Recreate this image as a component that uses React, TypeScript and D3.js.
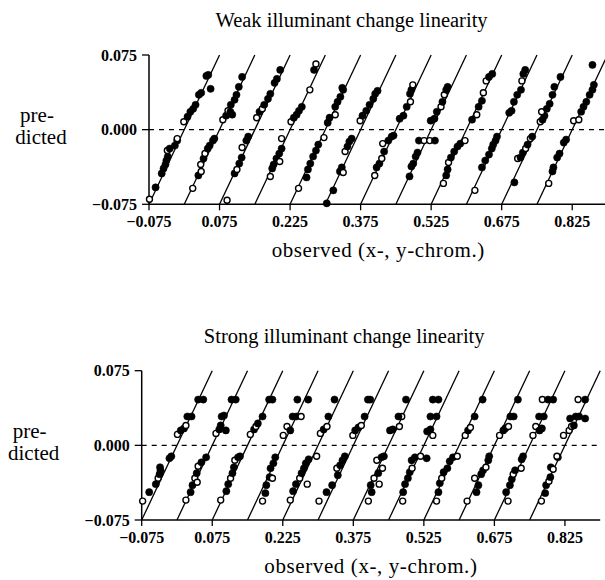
import React from "react";
import * as d3 from "d3";

type P = [number, number, number]; // [observed (local), predicted, filled?1:0]

const xTicks = [-0.075, 0.075, 0.225, 0.375, 0.525, 0.675, 0.825];
const yTicks = [0.075, 0, -0.075];
const groupOffsets = [0, 0.075, 0.15, 0.225, 0.3, 0.375, 0.45, 0.525, 0.6, 0.675, 0.75, 0.825];
const weakTitle = "Weak illuminant change linearity";
const strongTitle = "Strong illuminant change linearity";
const xLabel = "observed (x-, y-chrom.)";
const yLabel = ["pre-", "dicted"];

const weak0: P[] = [[-0.074,-0.070,0],[-0.061,-0.058,1],[-0.048,-0.044,1],[-0.044,-0.039,1],[-0.040,-0.035,1],[-0.038,-0.031,1],[-0.035,-0.027,1],[-0.036,-0.021,0],[-0.031,-0.019,1],[-0.020,-0.016,1],[-0.015,-0.011,1],[-0.015,-0.009,0],[-0.001,0.008,0],[0.007,0.013,1],[0.013,0.018,1],[0.019,0.021,1],[0.024,0.025,1],[0.031,0.035,1],[0.036,0.037,1],[0.047,0.054,1],[0.051,0.055,1],[0.056,0.041,1]];
const weak1: P[] = [[-0.057,-0.059,0],[-0.045,-0.046,1],[-0.039,-0.042,0],[-0.040,-0.035,0],[-0.034,-0.029,1],[-0.031,-0.024,0],[-0.025,-0.019,1],[-0.021,-0.016,1],[-0.014,-0.011,1],[-0.011,-0.009,1],[0.007,0.010,0],[0.014,0.014,1],[0.018,0.019,0],[0.023,0.018,1],[0.027,0.015,1],[0.024,0.025,1],[0.032,0.030,1],[0.036,0.035,1],[0.041,0.043,1],[0.048,0.053,1]];
const weak2: P[] = [[-0.059,-0.071,0],[-0.043,-0.044,1],[-0.038,-0.040,0],[-0.033,-0.034,1],[-0.028,-0.028,1],[-0.027,-0.018,0],[-0.018,-0.011,1],[-0.014,-0.007,1],[0.004,0.012,0],[0.010,0.018,1],[0.016,0.021,0],[0.020,0.025,1],[0.028,0.031,1],[0.033,0.036,1],[0.042,0.047,1],[0.047,0.051,1],[0.054,0.060,1]];
const weak3: P[] = [[-0.042,-0.047,0],[-0.038,-0.039,1],[-0.035,-0.035,1],[-0.029,-0.029,1],[-0.022,-0.032,0],[-0.023,-0.024,1],[-0.018,-0.019,1],[-0.018,-0.009,0],[0.002,0.008,0],[0.008,0.012,1],[0.014,0.015,1],[0.019,0.019,1],[0.025,0.023,1],[0.042,0.040,0],[0.051,0.060,1],[0.055,0.066,0]];
const weak4: P[] = [[-0.057,-0.059,0],[-0.040,-0.048,1],[-0.037,-0.040,1],[-0.032,-0.034,1],[-0.026,-0.027,1],[-0.020,-0.021,1],[-0.015,-0.015,1],[-0.003,-0.008,0],[0.005,0.007,1],[0.009,0.012,1],[0.021,0.015,0],[0.021,0.023,1],[0.026,0.028,1],[0.032,0.033,1],[0.038,0.040,1],[0.036,0.042,1]];
const weak5: P[] = [[-0.072,-0.074,1],[-0.058,-0.061,1],[-0.044,-0.042,1],[-0.040,-0.038,1],[-0.037,-0.043,0],[-0.033,-0.022,0],[-0.028,-0.017,1],[-0.024,-0.012,1],[-0.019,-0.009,1],[-0.001,0.009,0],[0.004,0.014,1],[0.012,0.019,1],[0.019,0.025,1],[0.027,0.031,1],[0.031,0.036,1],[0.036,0.039,1]];
const weak6: P[] = [[-0.045,-0.046,0],[-0.041,-0.038,1],[-0.035,-0.034,1],[-0.030,-0.029,0],[-0.025,-0.022,1],[-0.028,-0.014,0],[-0.016,-0.011,1],[-0.009,-0.007,1],[-0.005,-0.006,1],[0.008,0.011,1],[0.016,0.014,1],[0.023,0.023,1],[0.031,0.028,0],[0.030,0.036,1],[0.033,0.040,1],[0.036,0.045,0]];
const weak7: P[] = [[-0.046,-0.047,1],[-0.042,-0.037,1],[-0.038,-0.034,1],[-0.033,-0.027,1],[-0.029,-0.023,1],[-0.026,-0.011,1],[-0.015,-0.011,0],[-0.003,-0.011,0],[0.008,-0.011,1],[-0.001,0.009,1],[0.007,0.011,1],[0.012,0.018,1],[0.021,0.023,0],[0.024,0.028,1],[0.028,0.035,0],[0.032,0.040,1],[0.035,0.043,1]];
const weak8: P[] = [[-0.049,-0.054,0],[-0.043,-0.046,1],[-0.040,-0.040,1],[-0.038,-0.033,0],[-0.033,-0.028,1],[-0.026,-0.022,1],[-0.019,-0.017,1],[-0.013,-0.014,1],[-0.003,-0.011,0],[0.012,0.010,1],[0.022,0.015,0],[0.026,0.023,1],[0.033,0.029,1],[0.036,0.037,0],[0.042,0.049,0],[0.048,0.053,1],[0.055,0.056,1]];
const weak9: P[] = [[-0.057,-0.061,0],[-0.042,-0.038,1],[-0.035,-0.031,1],[-0.027,-0.025,1],[-0.021,-0.019,1],[-0.018,-0.015,1],[-0.013,-0.011,1],[-0.010,-0.007,1],[0.016,0.017,1],[0.021,0.019,1],[0.026,0.028,1],[0.033,0.035,1],[0.041,0.040,1],[0.043,0.049,0],[0.046,0.056,1],[0.050,0.060,1]];
const weak10: P[] = [[-0.048,-0.053,1],[-0.041,-0.029,0],[-0.035,-0.028,1],[-0.030,-0.023,1],[-0.024,-0.019,0],[-0.020,-0.015,1],[-0.014,-0.009,0],[-0.010,-0.007,1],[0.007,0.008,0],[0.012,0.010,1],[0.016,0.014,1],[0.010,0.018,0],[0.021,0.021,1],[0.027,0.026,1],[0.033,0.035,1],[0.037,0.043,1],[0.050,0.053,1]];
const weak11: P[] = [[-0.050,-0.054,0],[-0.042,-0.042,1],[-0.040,-0.038,1],[-0.032,-0.028,1],[-0.027,-0.024,1],[-0.018,-0.013,1],[-0.013,-0.010,1],[0.003,0.009,0],[0.014,0.010,0],[0.019,0.018,1],[0.024,0.023,1],[0.030,0.028,1],[0.037,0.035,1],[0.043,0.040,1],[0.046,0.045,1],[0.043,0.065,1]];

const strong0: P[] = [[-0.073,-0.056,0],[-0.059,-0.047,1],[-0.045,-0.039,1],[-0.040,-0.033,0],[-0.037,-0.029,1],[-0.036,-0.022,1],[-0.035,-0.025,1],[-0.016,-0.013,1],[-0.012,-0.011,1],[0.001,0.011,0],[0.008,0.015,1],[0.015,0.017,1],[0.019,0.020,0],[0.022,0.029,1],[0.031,0.029,1],[0.045,0.046,1],[0.056,0.046,1]];
const strong1: P[] = [[-0.056,-0.055,0],[-0.046,-0.047,1],[-0.042,-0.040,1],[-0.037,-0.033,0],[-0.032,-0.037,0],[-0.033,-0.028,1],[-0.030,-0.021,0],[-0.023,-0.017,1],[-0.013,-0.012,1],[0.008,0.012,0],[0.015,0.016,1],[0.018,0.020,1],[0.029,0.015,1],[0.020,0.029,1],[0.025,0.030,1],[0.041,0.046,1],[0.050,0.046,1]];
const strong2: P[] = [[-0.057,-0.055,0],[-0.045,-0.046,1],[-0.041,-0.039,1],[-0.036,-0.033,0],[-0.032,-0.028,1],[-0.029,-0.022,1],[-0.027,-0.015,0],[-0.020,-0.012,1],[-0.016,-0.011,1],[0.006,0.011,0],[0.014,0.016,1],[0.018,0.019,0],[0.022,0.022,1],[0.032,0.029,1],[0.046,0.046,1],[0.053,0.046,1]];
const strong3: P[] = [[-0.043,-0.056,0],[-0.037,-0.048,1],[-0.035,-0.040,1],[-0.028,-0.032,1],[-0.022,-0.033,0],[-0.026,-0.023,1],[-0.020,-0.018,1],[-0.016,-0.012,1],[0.001,0.010,0],[0.009,0.019,0],[0.016,0.015,1],[0.021,0.029,1],[0.029,0.029,1],[0.039,0.029,0],[0.031,0.046,1],[0.054,0.046,1]];
const strong4: P[] = [[-0.059,-0.055,0],[-0.053,-0.046,1],[-0.047,-0.039,1],[-0.039,-0.033,0],[-0.023,-0.039,0],[-0.035,-0.028,1],[-0.030,-0.023,1],[-0.026,-0.018,1],[-0.020,-0.014,1],[-0.003,-0.011,0],[0.005,0.012,0],[0.012,0.016,1],[0.019,0.019,0],[0.022,0.029,1],[0.035,0.046,1]];
const strong5: P[] = [[-0.073,-0.056,0],[-0.057,-0.047,1],[-0.045,-0.040,1],[-0.033,-0.030,1],[-0.035,-0.023,0],[-0.028,-0.020,1],[-0.023,-0.015,1],[-0.018,-0.011,1],[-0.001,0.010,0],[0.004,0.015,1],[0.011,0.018,1],[0.017,0.020,0],[0.024,0.029,1],[0.031,0.046,1],[0.036,0.046,1]];
const strong6: P[] = [[-0.043,-0.056,0],[-0.036,-0.047,1],[-0.038,-0.040,1],[-0.031,-0.033,0],[-0.020,-0.039,0],[-0.022,-0.028,1],[-0.013,-0.023,0],[-0.025,-0.015,0],[-0.015,-0.012,1],[-0.010,-0.011,1],[0.003,0.015,1],[0.009,0.016,1],[0.023,0.019,0],[0.028,0.029,0],[0.021,0.029,1],[0.037,0.046,1]];
const strong7: P[] = [[-0.045,-0.056,0],[-0.044,-0.047,1],[-0.040,-0.039,1],[-0.034,-0.033,1],[-0.030,-0.027,1],[-0.025,-0.023,0],[-0.026,-0.015,1],[-0.019,-0.012,1],[-0.007,-0.011,0],[0.006,-0.013,1],[0.007,0.014,1],[0.014,0.016,1],[0.019,0.010,0],[0.014,0.029,1],[0.027,0.029,1],[0.019,0.046,1],[0.031,0.046,1]];
const strong8: P[] = [[-0.048,-0.056,0],[-0.044,-0.047,1],[-0.041,-0.038,1],[-0.037,-0.033,0],[-0.033,-0.027,1],[-0.025,-0.023,1],[-0.020,-0.016,1],[-0.013,-0.012,1],[-0.004,-0.011,0],[0.013,0.010,0],[0.019,0.015,1],[0.024,0.018,0],[0.033,0.029,1],[0.050,0.046,1]];
const strong9: P[] = [[-0.058,-0.056,0],[-0.038,-0.047,1],[-0.034,-0.040,1],[-0.042,-0.033,0],[-0.028,-0.029,1],[-0.024,-0.025,1],[-0.018,-0.022,0],[-0.013,-0.015,1],[-0.011,-0.011,1],[0.011,0.010,0],[0.019,0.015,1],[0.023,0.017,1],[0.030,0.019,0],[0.034,0.029,1],[0.041,0.029,1],[0.050,0.046,1]];
const strong10: P[] = [[-0.046,-0.056,0],[-0.050,-0.047,1],[-0.042,-0.040,1],[-0.038,-0.034,1],[-0.035,-0.029,0],[-0.031,-0.025,1],[-0.018,-0.023,0],[-0.017,-0.014,1],[-0.014,-0.011,1],[0.007,0.010,0],[0.013,0.019,0],[0.021,0.015,1],[0.026,0.017,1],[0.020,0.029,1],[0.030,0.029,1],[0.027,0.046,0],[0.039,0.046,1],[0.050,0.046,1]];
const strong11: P[] = [[-0.050,-0.056,0],[-0.042,-0.048,1],[-0.040,-0.040,1],[-0.034,-0.036,0],[-0.031,-0.032,1],[-0.030,-0.022,1],[-0.025,-0.024,0],[-0.015,-0.012,1],[-0.017,-0.011,0],[-0.003,0.010,0],[0.009,0.015,0],[0.014,0.019,0],[0.019,0.020,1],[0.011,0.027,1],[0.023,0.029,1],[0.030,0.029,1],[0.043,0.027,1],[0.028,0.046,0],[0.043,0.046,1]];

const weakGroups = [weak0, weak1, weak2, weak3, weak4, weak5, weak6, weak7, weak8, weak9, weak10, weak11];
const strongGroups = [strong0, strong1, strong2, strong3, strong4, strong5, strong6, strong7, strong8, strong9, strong10, strong11];

const FONT = "'Liberation Serif', 'Times New Roman', serif";
const fmt = d3.format(".3f");

function Panel({ groups, title, left, top }: { groups: P[][]; title: string; left: number; top: number }) {
  const x = d3.scaleLinear().domain([-0.075, 0.9]).range([left, left + 458.5]);
  const y = d3.scaleLinear().domain([-0.075, 0.075]).range([top + 149.3, top]);
  const cx = (x(-0.075) + x(0.9)) / 2;
  const y0 = y(-0.075);
  return (
    <g>
      <text x={left + 202.5} y={top - 28} textAnchor="middle" fontFamily={FONT} fontSize={20.5}>{title}</text>
      {/* zero dashed line */}
      <line x1={x(-0.075)} x2={x(0.9)} y1={y(0)} y2={y(0)} stroke="#000" strokeWidth={1.2} strokeDasharray="5,5" />
      {/* axes */}
      <line x1={left} x2={left} y1={y(0.075)} y2={y0} stroke="#000" strokeWidth={1.5} />
      <line x1={left} x2={x(0.9)} y1={y0} y2={y0} stroke="#000" strokeWidth={1.5} />
      {yTicks.map((t) => (
        <g key={"y" + t}>
          <line x1={left - 7} x2={left} y1={y(t)} y2={y(t)} stroke="#000" strokeWidth={1.3} />
          <text x={left - 12} y={y(t)} dy="0.35em" textAnchor="end" fontFamily={FONT} fontWeight="bold" fontSize={16}>{fmt(t)}</text>
        </g>
      ))}
      {xTicks.map((t) => (
        <g key={"x" + t}>
          <line x1={x(t)} x2={x(t)} y1={y0} y2={y0 + 6} stroke="#000" strokeWidth={1.3} />
          <text x={x(t)} y={y0 + 23} textAnchor="middle" fontFamily={FONT} fontWeight="bold" fontSize={16}>{fmt(t)}</text>
        </g>
      ))}
      <text x={cx} y={top + 202} textAnchor="middle" fontFamily={FONT} fontSize={21} letterSpacing={0.6}>{xLabel}</text>
      <text x={left - 112} y={top + 67} textAnchor="middle" fontFamily={FONT} fontSize={21}>{yLabel[0]}</text>
      <text x={left - 108} y={top + 89} textAnchor="middle" fontFamily={FONT} fontSize={21}>{yLabel[1]}</text>
      {/* identity lines, one per group */}
      {groupOffsets.map((o, k) => (
        <line key={"l" + k} x1={x(-0.075 + o)} y1={y(-0.075)} x2={x(0.075 + o)} y2={y(0.075)} stroke="#000" strokeWidth={1.3} />
      ))}
      {groups.map((pts, k) =>
        pts.map((p, i) => (
          <circle
            key={k + "-" + i}
            cx={x(p[0] + groupOffsets[k])}
            cy={y(p[1])}
            r={p[2] ? 3.6 : 3.0}
            fill={p[2] ? "#000" : "#fff"}
            stroke="#000"
            strokeWidth={p[2] ? 0.5 : 1.4}
          />
        ))
      )}
    </g>
  );
}

export default function App() {
  return (
    <svg width={605} height={580} style={{ position: "absolute", left: 0, top: 0, background: "#fff" }}>
      <rect width={605} height={580} fill="#fff" />
      <Panel groups={weakGroups} title={weakTitle} left={149} top={55} />
      <Panel groups={strongGroups} title={strongTitle} left={141.7} top={370.7} />
    </svg>
  );
}
